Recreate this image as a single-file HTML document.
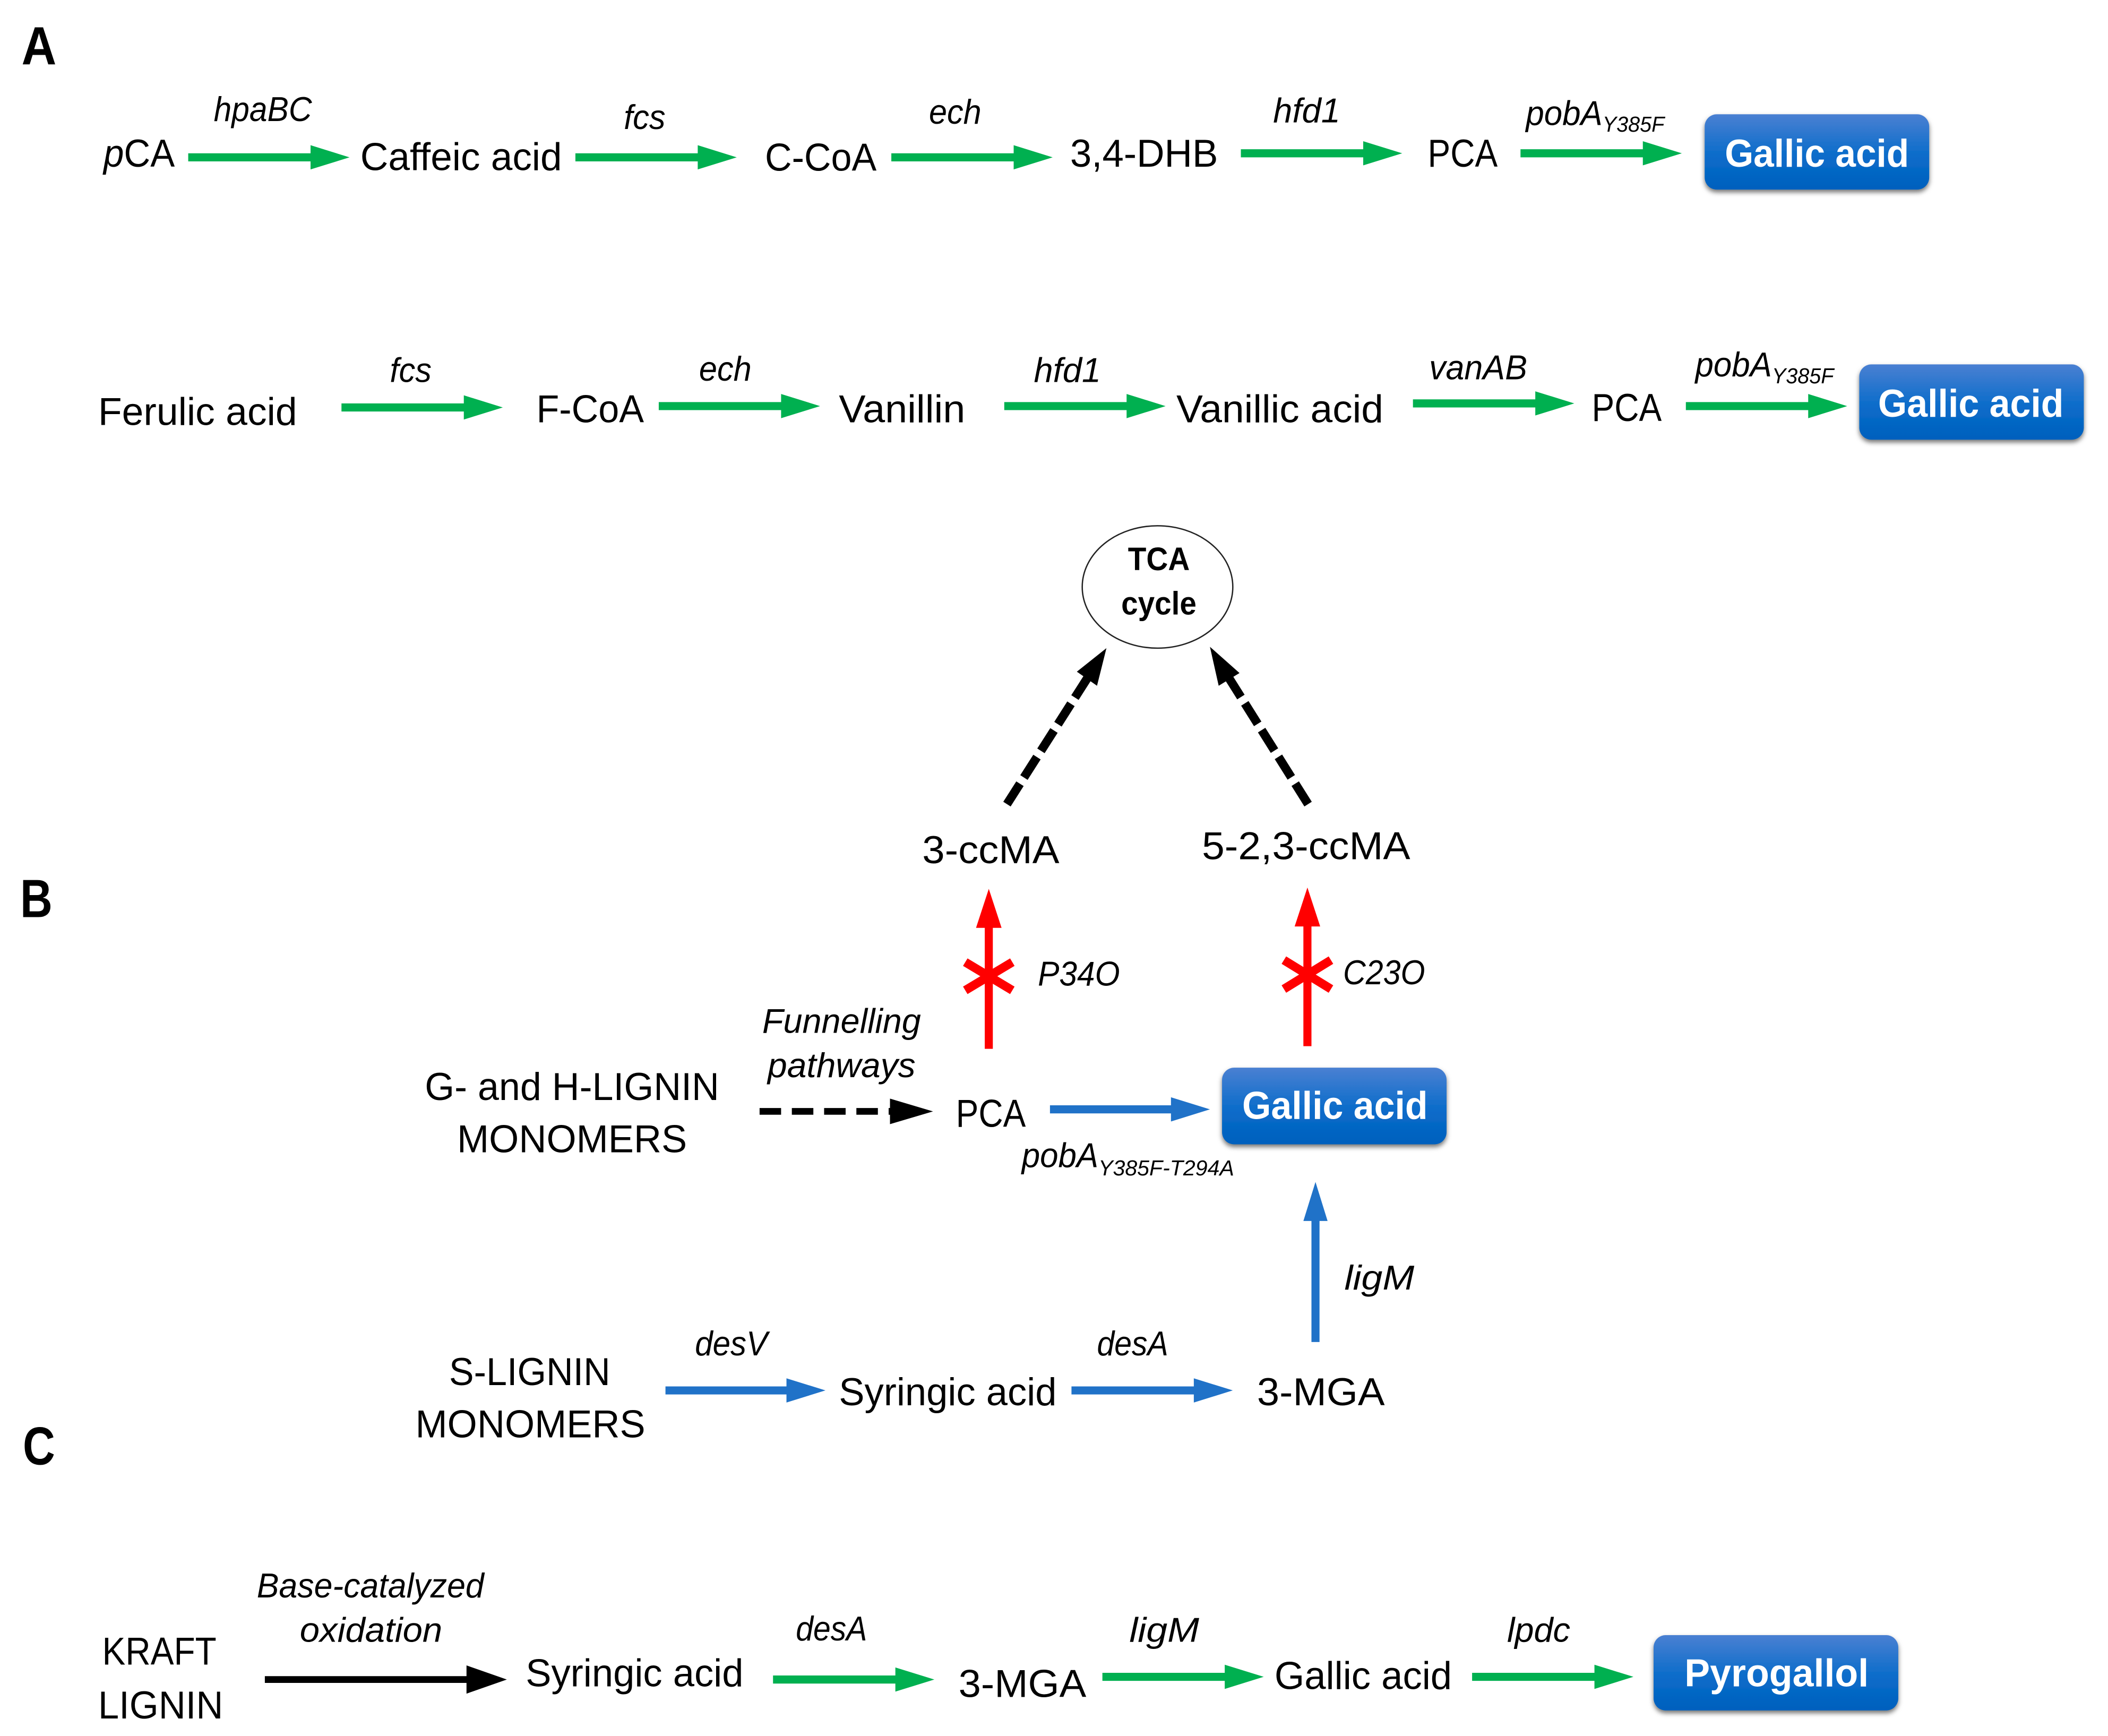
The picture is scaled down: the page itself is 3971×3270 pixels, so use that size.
<!DOCTYPE html>
<html>
<head>
<meta charset="utf-8">
<title>Pathways to gallic acid and pyrogallol</title>
<style>
html,body{margin:0;padding:0;background:#fff;width:3971px;height:3270px;overflow:hidden}
svg{display:block}
text{font-family:"Liberation Sans",sans-serif;fill:#000;font-size:29px}
.i{font-style:italic;font-size:25.5px}
.s{font-style:italic;font-size:16px}
.h{font-weight:bold;font-size:40px}
.w{fill:#fff;font-weight:bold;font-size:29px}
.t{font-weight:bold;font-size:24px}
</style>
</head>
<body>
<svg xmlns="http://www.w3.org/2000/svg" width="3971" height="3270" viewBox="0 0 1568 1291" preserveAspectRatio="none">
<defs>
<linearGradient id="bg" x1="0" y1="0" x2="0" y2="1">
<stop offset="0" stop-color="#4a80d2"/><stop offset="0.55" stop-color="#0a6cca"/><stop offset="1" stop-color="#0060bd"/>
</linearGradient>
<filter id="sh" x="-10%" y="-20%" width="120%" height="150%">
<feDropShadow dx="0" dy="2" stdDeviation="1.800" flood-color="#000" flood-opacity="0.55"/>
</filter>
</defs>
<rect width="1568" height="1291" fill="#fff"/>

<!-- Panel letters -->
<text class="h" x="16" y="48" textLength="26" lengthAdjust="spacingAndGlyphs">A</text>
<text class="h" x="15" y="682" textLength="24" lengthAdjust="spacingAndGlyphs">B</text>
<text class="h" x="17" y="1089" textLength="24" lengthAdjust="spacingAndGlyphs">C</text>

<!-- Green arrows -->
<g fill="#00b050">
<path d="M140 114h91v-6l29 9-29 9v-6h-91z"/>
<path d="M428 114h91v-6l29 9-29 9v-6h-91z"/>
<path d="M663 114h91v-6l29 9-29 9v-6h-91z"/>
<path d="M923 111h91v-6l29 9-29 9v-6h-91z"/>
<path d="M1131 111h91v-6l29 9-29 9v-6h-91z"/>
<path d="M254 300h91v-6l29 9-29 9v-6h-91z"/>
<path d="M490 299h91v-6l29 9-29 9v-6h-91z"/>
<path d="M747 299h91v-6l29 9-29 9v-6h-91z"/>
<path d="M1051 297h91v-6l29 9-29 9v-6h-91z"/>
<path d="M1254 299h91v-6l29 9-29 9v-6h-91z"/>
<path d="M575 1246h91v-6l29 9-29 9v-6h-91z"/>
<path d="M820 1244h91v-6l29 9-29 9v-6h-91z"/>
<path d="M1095 1244h91v-6l29 9-29 9v-6h-91z"/>
</g>

<!-- Blue arrows -->
<g fill="#2072c8">
<path d="M781 822h90v-6l29 9-29 9v-6h-90z"/>
<path d="M495 1031h90v-6l29 9-29 9v-6h-90z"/>
<path d="M797 1031h91v-6l29 9-29 9v-6h-91z"/>
<path d="M975.500 998v-90h-6l9-29 9 29h-6v90z"/>
</g>

<!-- Red arrows with crosses -->
<g fill="#ff0000">
<path d="M732.500 780v-90h-6.500l9.500-29 9.500 29h-6.500v90z"/>
<path d="M969.500 778v-89h-6.500l9.500-29 9.500 29h-6.500v89z"/>
</g>
<g stroke="#ff0000" stroke-width="6.500" fill="none">
<path d="M718 715.500L753 736.500M718 736.500L753 715.500"/>
<path d="M955 714L990 735.500M955 735.500L990 714"/>
</g>

<!-- Black arrows -->
<path d="M197 1246.500h150v-8l30 10.500-30 10.500v-8h-150z" fill="#000"/>
<path d="M565 826.500H664" stroke="#000" stroke-width="5" stroke-dasharray="16 8" fill="none"/>
<path d="M662 817l32 9.500-32 9.500z" fill="#000"/>
<path d="M749 598L809 504" stroke="#000" stroke-width="6.500" stroke-dasharray="18 5.500" fill="none"/>
<path d="M823 482L816 510 801 499.500z" fill="#000"/>
<path d="M973 598L914 504" stroke="#000" stroke-width="6.500" stroke-dasharray="18 5.500" fill="none"/>
<path d="M900 481L922 500.500 906.500 510z" fill="#000"/>

<!-- TCA ellipse -->
<ellipse cx="861" cy="436.500" rx="56" ry="45.500" fill="#fff" stroke="#222" stroke-width="1"/>
<text class="t" x="839" y="424" textLength="46" lengthAdjust="spacingAndGlyphs">TCA</text>
<text class="t" x="834" y="457" textLength="56" lengthAdjust="spacingAndGlyphs">cycle</text>

<!-- Blue boxes -->
<g fill="url(#bg)" filter="url(#sh)">
<rect x="1268" y="85" width="167" height="56" rx="9"/>
<rect x="1383" y="271" width="167" height="56" rx="9"/>
<rect x="909" y="794" width="167" height="57" rx="9"/>
<rect x="1230" y="1216" width="182" height="56" rx="9"/>
</g>
<text class="w" x="1283" y="124" textLength="137" lengthAdjust="spacingAndGlyphs">Gallic acid</text>
<text class="w" x="1397" y="310" textLength="138" lengthAdjust="spacingAndGlyphs">Gallic acid</text>
<text class="w" x="924" y="832" textLength="138" lengthAdjust="spacingAndGlyphs">Gallic acid</text>
<text class="w" x="1253" y="1254" textLength="137" lengthAdjust="spacingAndGlyphs">Pyrogallol</text>

<!-- Row A1 -->
<text x="77" y="124" textLength="53" lengthAdjust="spacingAndGlyphs"><tspan font-style="italic">p</tspan>CA</text>
<text class="i" x="159" y="90" textLength="73" lengthAdjust="spacingAndGlyphs">hpaBC</text>
<text x="268" y="126.500" textLength="150" lengthAdjust="spacingAndGlyphs">Caffeic acid</text>
<text class="i" x="464" y="96" textLength="31" lengthAdjust="spacingAndGlyphs">fcs</text>
<text x="569" y="127" textLength="83" lengthAdjust="spacingAndGlyphs">C-CoA</text>
<text class="i" x="691" y="92" textLength="39" lengthAdjust="spacingAndGlyphs">ech</text>
<text x="796" y="124" textLength="110" lengthAdjust="spacingAndGlyphs">3,4-DHB</text>
<text class="i" x="947" y="91" textLength="50" lengthAdjust="spacingAndGlyphs">hfd1</text>
<text x="1062" y="124" textLength="52" lengthAdjust="spacingAndGlyphs">PCA</text>
<text class="i" x="1135" y="93" textLength="57" lengthAdjust="spacingAndGlyphs">pobA</text>
<text class="s" x="1192" y="98" textLength="46" lengthAdjust="spacingAndGlyphs">Y385F</text>

<!-- Row A2 -->
<text x="73" y="316" textLength="148" lengthAdjust="spacingAndGlyphs">Ferulic acid</text>
<text class="i" x="290" y="284" textLength="31" lengthAdjust="spacingAndGlyphs">fcs</text>
<text x="399" y="314" textLength="80" lengthAdjust="spacingAndGlyphs">F-CoA</text>
<text class="i" x="520" y="283" textLength="39" lengthAdjust="spacingAndGlyphs">ech</text>
<text x="624" y="314" textLength="94" lengthAdjust="spacingAndGlyphs">Vanillin</text>
<text class="i" x="769" y="284" textLength="50" lengthAdjust="spacingAndGlyphs">hfd1</text>
<text x="875" y="314" textLength="154" lengthAdjust="spacingAndGlyphs">Vanillic acid</text>
<text class="i" x="1063" y="282" textLength="73" lengthAdjust="spacingAndGlyphs">vanAB</text>
<text x="1184" y="313" textLength="52" lengthAdjust="spacingAndGlyphs">PCA</text>
<text class="i" x="1261" y="280" textLength="57" lengthAdjust="spacingAndGlyphs">pobA</text>
<text class="s" x="1318" y="285" textLength="46" lengthAdjust="spacingAndGlyphs">Y385F</text>

<!-- Panel B -->
<text x="686" y="642" textLength="102" lengthAdjust="spacingAndGlyphs">3-ccMA</text>
<text x="894" y="639" textLength="155" lengthAdjust="spacingAndGlyphs">5-2,3-ccMA</text>
<text class="i" x="772" y="733" textLength="61" lengthAdjust="spacingAndGlyphs">P34O</text>
<text class="i" x="999" y="732" textLength="61" lengthAdjust="spacingAndGlyphs">C23O</text>
<text class="i" x="567" y="768" textLength="118" lengthAdjust="spacingAndGlyphs">Funnelling</text>
<text class="i" x="571" y="801" textLength="110" lengthAdjust="spacingAndGlyphs">pathways</text>
<text x="316" y="818" textLength="219" lengthAdjust="spacingAndGlyphs">G- and H-LIGNIN</text>
<text x="340" y="857" textLength="171" lengthAdjust="spacingAndGlyphs">MONOMERS</text>
<text x="711" y="838" textLength="52" lengthAdjust="spacingAndGlyphs">PCA</text>
<text class="i" x="760" y="868" textLength="57" lengthAdjust="spacingAndGlyphs">pobA</text>
<text class="s" x="817" y="874" textLength="101" lengthAdjust="spacingAndGlyphs">Y385F-T294A</text>
<text class="i" x="1000" y="959" textLength="52" lengthAdjust="spacingAndGlyphs">ligM</text>
<text x="334" y="1030" textLength="120" lengthAdjust="spacingAndGlyphs">S-LIGNIN</text>
<text x="309" y="1069" textLength="171" lengthAdjust="spacingAndGlyphs">MONOMERS</text>
<text class="i" x="517" y="1008" textLength="54" lengthAdjust="spacingAndGlyphs">desV</text>
<text x="624" y="1045" textLength="162" lengthAdjust="spacingAndGlyphs">Syringic acid</text>
<text class="i" x="816" y="1008" textLength="53" lengthAdjust="spacingAndGlyphs">desA</text>
<text x="935" y="1045" textLength="95" lengthAdjust="spacingAndGlyphs">3-MGA</text>

<!-- Panel C -->
<text class="i" x="191" y="1188" textLength="169" lengthAdjust="spacingAndGlyphs">Base-catalyzed</text>
<text class="i" x="223" y="1221" textLength="106" lengthAdjust="spacingAndGlyphs">oxidation</text>
<text x="76" y="1238" textLength="85" lengthAdjust="spacingAndGlyphs">KRAFT</text>
<text x="73" y="1278" textLength="93" lengthAdjust="spacingAndGlyphs">LIGNIN</text>
<text x="391" y="1254" textLength="162" lengthAdjust="spacingAndGlyphs">Syringic acid</text>
<text class="i" x="592" y="1220" textLength="53" lengthAdjust="spacingAndGlyphs">desA</text>
<text x="713" y="1262" textLength="95" lengthAdjust="spacingAndGlyphs">3-MGA</text>
<text class="i" x="840" y="1221" textLength="52" lengthAdjust="spacingAndGlyphs">ligM</text>
<text x="948" y="1256" textLength="132" lengthAdjust="spacingAndGlyphs">Gallic acid</text>
<text class="i" x="1121" y="1221" textLength="47" lengthAdjust="spacingAndGlyphs">lpdc</text>
</svg>
</body>
</html>
